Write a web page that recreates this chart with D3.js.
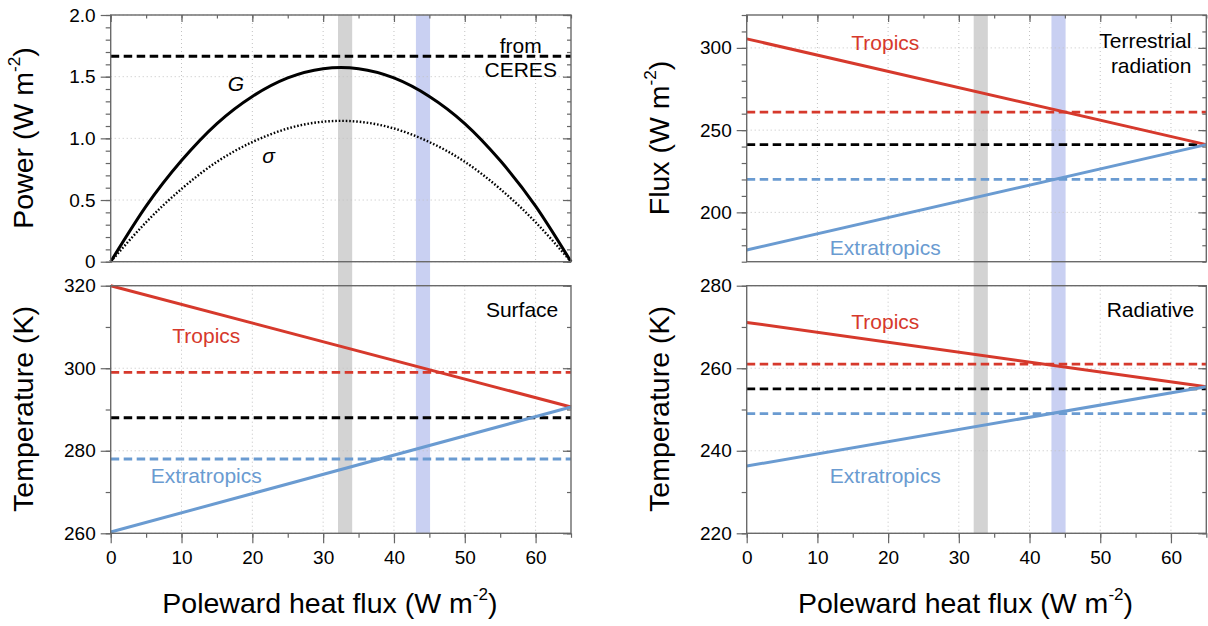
<!DOCTYPE html>
<html>
<head>
<meta charset="utf-8">
<script src="https://cdn.jsdelivr.net/npm/d3@7"></script>
<style>
  body { margin: 0; background: #fff; }
  svg { display: block; font-family: "Liberation Sans", Arial, Helvetica, sans-serif; }
  .tick line { stroke: #666; stroke-width: 1.2; }
  .tick text { fill: #000; font-size: 19px; }
</style>
</head>
<body>
<svg id="chart" width="1208" height="626"></svg>
<script>
// poleward heat flux axis, shared by all four panels
const fluxDomain = [0, 65];
const fluxTicks = [0, 10, 20, 30, 40, 50, 60];
const fluxMinorTicks = [0, 5, 10, 15, 20, 25, 30, 35, 40, 45, 50, 55, 60, 65];

// shaded ranges (gray, blue)
const bandRanges = [[32.1, 34.1], [43.1, 45.1]];
const bandColors = ['#d3d3d3', '#c9d0f2'];

// top left: power
const powerFlux = [0, 5, 10, 15, 20, 25, 30, 35, 40, 45, 50, 55, 60, 65];
const powerG = [0, 0.45, 0.82, 1.12, 1.34, 1.49, 1.565, 1.565, 1.49, 1.34, 1.12, 0.82, 0.45, 0];
const powerSigma = [0, 0.32, 0.59, 0.81, 0.97, 1.08, 1.135, 1.135, 1.08, 0.97, 0.81, 0.59, 0.32, 0];
const powerCeres = 1.665;
const powerDomain = [0, 2];
const powerTicks = [0, 0.5, 1, 1.5, 2];

// top right: terrestrial radiation
const lineFlux = [0, 65];
const olrTropics = [305.5, 241.2];
const olrExtratropics = [177.1, 241.2];
const olrObserved = [261, 241.2, 220]; // tropics, global, extratropics
const olrDomain = [170, 320];
const olrTicks = [200, 250, 300];

// bottom left: surface temperature
const tsTropics = [320, 290.6];
const tsExtratropics = [260.3, 290.6];
const tsObserved = [299, 288, 278];
const tsDomain = [260, 320];
const tsTicks = [260, 280, 300, 320];

// bottom right: radiative temperature
const trTropics = [271.1, 255.5];
const trExtratropics = [236.3, 255.5];
const trObserved = [261, 255, 249];
const trDomain = [220, 280];
const trTicks = [220, 240, 260, 280];

const RED = '#d6392c';
const BLUE = '#6a9bd1';
const obsColors = [RED, '#000', BLUE];
const LABEL_SIZE = 21;

const cols = [[110.7, 571], [746.7, 1206.3]];
const rows = [[15, 261.7], [285.7, 533.3]];

const svg = d3.select('#chart');
const bandLayer = svg.append('g');

const panels = [
  {
    col: 0, row: 0, domain: powerDomain, ticks: powerTicks, minorStep: 0.1,
    format: (d) => (d === 0 ? '0' : d3.format('.1f')(d)),
    title: 'Power', units: true, titleX: 33, titleY: 138,
  },
  {
    col: 1, row: 0, domain: olrDomain, ticks: olrTicks, minorStep: 10,
    format: d3.format('d'), title: 'Flux', units: true, titleX: 669, titleY: 138,
    tropics: olrTropics, extratropics: olrExtratropics, observed: olrObserved,
    labels: [
      { text: 'Tropics', x: 19.6, y: 298.7, color: RED, anchor: 'middle' },
      { text: 'Extratropics', x: 19.6, y: 174.1, color: BLUE, anchor: 'middle' },
      { text: 'Terrestrial', x: 62.9, y: 299.8, color: '#000', anchor: 'end' },
      { text: 'radiation', x: 62.9, y: 284.6, color: '#000', anchor: 'end' },
    ],
  },
  {
    col: 0, row: 1, domain: tsDomain, ticks: tsTicks, minorStep: 10,
    format: d3.format('d'), title: 'Temperature (K)', units: false, titleX: 33, titleY: 409,
    tropics: tsTropics, extratropics: tsExtratropics, observed: tsObserved,
    labels: [
      { text: 'Tropics', x: 13.5, y: 306.0, color: RED, anchor: 'middle' },
      { text: 'Extratropics', x: 13.5, y: 272.1, color: BLUE, anchor: 'middle' },
      { text: 'Surface', x: 63.2, y: 312.5, color: '#000', anchor: 'end' },
    ],
  },
  {
    col: 1, row: 1, domain: trDomain, ticks: trTicks, minorStep: 10,
    format: d3.format('d'), title: 'Temperature (K)', units: false, titleX: 669, titleY: 409,
    tropics: trTropics, extratropics: trExtratropics, observed: trObserved,
    labels: [
      { text: 'Tropics', x: 19.6, y: 269.4, color: RED, anchor: 'middle' },
      { text: 'Extratropics', x: 19.6, y: 232.1, color: BLUE, anchor: 'middle' },
      { text: 'Radiative', x: 63.3, y: 272.3, color: '#000', anchor: 'end' },
    ],
  },
];

// shaded bands run through both rows of each column
cols.forEach((range) => {
  const x = d3.scaleLinear().domain(fluxDomain).range(range);
  bandLayer
    .selectAll(null)
    .data(bandRanges)
    .join('rect')
    .attr('x', (d) => x(d[0]))
    .attr('width', (d) => x(d[1]) - x(d[0]))
    .attr('y', rows[0][0])
    .attr('height', rows[1][1] - rows[0][0])
    .attr('fill', (d, i) => bandColors[i]);
});

panels.forEach(drawPanel);

function drawPanel(p) {
  const [left, right] = cols[p.col];
  const [top, bottom] = rows[p.row];
  const x = d3.scaleLinear().domain(fluxDomain).range([left, right]);
  const y = d3.scaleLinear().domain(p.domain).range([bottom, top]);
  const g = svg.append('g');
  const minorY = d3.range(p.domain[0], p.domain[1] + p.minorStep / 2, p.minorStep);

  // dotted grid
  g.append('g')
    .selectAll('line')
    .data(fluxTicks.filter((d) => d > 0))
    .join('line')
    .attr('x1', x).attr('x2', x)
    .attr('y1', top).attr('y2', bottom);
  g.append('g')
    .selectAll('line')
    .data(p.ticks)
    .join('line')
    .attr('x1', left).attr('x2', right)
    .attr('y1', y).attr('y2', y);
  g.selectAll('line')
    .attr('stroke', '#c2c2c2')
    .attr('stroke-width', 1)
    .attr('stroke-dasharray', '1 3');

  const line = d3.line().x((d) => x(d[0])).y((d) => y(d[1]));

  if (p.observed) {
    g.append('g')
      .selectAll('line')
      .data(p.observed)
      .join('line')
      .attr('x1', x(fluxDomain[0])).attr('x2', x(fluxDomain[1]))
      .attr('y1', y).attr('y2', y)
      .attr('stroke', (d, i) => obsColors[i])
      .attr('stroke-width', 2.8)
      .attr('stroke-dasharray', '8.5 4.5');

    [[p.tropics, RED], [p.extratropics, BLUE]].forEach(([values, color]) => {
      g.append('path')
        .attr('d', line(lineFlux.map((f, i) => [f, values[i]])))
        .attr('fill', 'none')
        .attr('stroke', color)
        .attr('stroke-width', 3);
    });
  } else {
    g.append('line')
      .attr('x1', x(fluxDomain[0])).attr('x2', x(fluxDomain[1]))
      .attr('y1', y(powerCeres)).attr('y2', y(powerCeres))
      .attr('stroke', '#000')
      .attr('stroke-width', 3)
      .attr('stroke-dasharray', '8.5 4.5');

    const curve = line.curve(d3.curveNatural);
    g.append('path')
      .attr('d', curve(powerFlux.map((f, i) => [f, powerSigma[i]])))
      .attr('fill', 'none')
      .attr('stroke', '#000')
      .attr('stroke-width', 2.4)
      .attr('stroke-dasharray', '1.6 1.9');
    g.append('path')
      .attr('d', curve(powerFlux.map((f, i) => [f, powerG[i]])))
      .attr('fill', 'none')
      .attr('stroke', '#000')
      .attr('stroke-width', 3);

    g.append('text').attr('x', x(17.7)).attr('y', y(1.44)).attr('dy', '0.35em')
      .attr('text-anchor', 'middle').attr('font-size', LABEL_SIZE).attr('font-style', 'italic').text('G');
    g.append('text').attr('x', x(22.3)).attr('y', y(0.86)).attr('dy', '0.35em')
      .attr('text-anchor', 'middle').attr('font-size', LABEL_SIZE).attr('font-style', 'italic').text('σ');
    g.append('text').attr('x', x(57.9)).attr('y', y(1.694))
      .attr('text-anchor', 'middle').attr('font-size', LABEL_SIZE).text('from');
    g.append('text').attr('x', x(57.9)).attr('y', y(1.5))
      .attr('text-anchor', 'middle').attr('font-size', LABEL_SIZE).text('CERES');
  }

  (p.labels || []).forEach((l) => {
    g.append('text')
      .attr('x', x(l.x)).attr('y', y(l.y))
      .attr('text-anchor', l.anchor)
      .attr('fill', l.color)
      .attr('font-size', LABEL_SIZE)
      .text(l.text);
  });

  // frame
  g.append('rect')
    .attr('x', left).attr('y', top)
    .attr('width', right - left).attr('height', bottom - top)
    .attr('fill', 'none')
    .attr('stroke', '#6a6a6a')
    .attr('stroke-width', 1.4);

  // left axis: ticks out
  g.append('g').attr('transform', `translate(${left},0)`)
    .call(d3.axisLeft(y).tickValues(minorY).tickSize(5).tickFormat(''));
  g.append('g').attr('transform', `translate(${left},0)`)
    .call(d3.axisLeft(y).tickValues(p.ticks).tickSize(10).tickPadding(5).tickFormat(p.format));

  // right axis: ticks in
  g.append('g').attr('transform', `translate(${right},0)`)
    .call(d3.axisRight(y).tickValues(minorY).tickSize(-4).tickFormat(''));
  g.append('g').attr('transform', `translate(${right},0)`)
    .call(d3.axisRight(y).tickValues(p.ticks).tickSize(-8).tickFormat(''));

  if (p.row === 0) {
    g.append('g').attr('transform', `translate(0,${top})`)
      .call(d3.axisTop(x).tickValues(fluxMinorTicks).tickSize(-3.5).tickFormat(''));
    g.append('g').attr('transform', `translate(0,${top})`)
      .call(d3.axisTop(x).tickValues(fluxTicks).tickSize(-7).tickFormat(''));
  } else {
    g.append('g').attr('transform', `translate(0,${bottom})`)
      .call(d3.axisBottom(x).tickValues(fluxMinorTicks).tickSize(4.5).tickFormat(''));
    g.append('g').attr('transform', `translate(0,${bottom})`)
      .call(d3.axisBottom(x).tickValues(fluxTicks).tickSize(10).tickPadding(7).tickFormat(d3.format('d')));

    const xt = g.append('text')
      .attr('x', (left + right) / 2 - 11)
      .attr('y', 613)
      .attr('text-anchor', 'middle')
      .attr('font-size', 28.5);
    writeUnits(xt, 'Poleward heat flux');
  }

  g.selectAll('.domain').remove();

  const yt = g.append('text')
    .attr('transform', `translate(${p.titleX},${p.titleY}) rotate(-90)`)
    .attr('text-anchor', 'middle')
    .attr('font-size', 28.5);
  if (p.units) {
    writeUnits(yt, p.title);
  } else {
    yt.text(p.title);
  }
}

function writeUnits(text, name) {
  text.append('tspan').text(`${name} (W m`);
  text.append('tspan').attr('font-size', '0.6em').attr('dy', '-0.75em').text('-2');
  text.append('tspan').attr('dy', '0.45em').text(')');
}
</script>
</body>
</html>
